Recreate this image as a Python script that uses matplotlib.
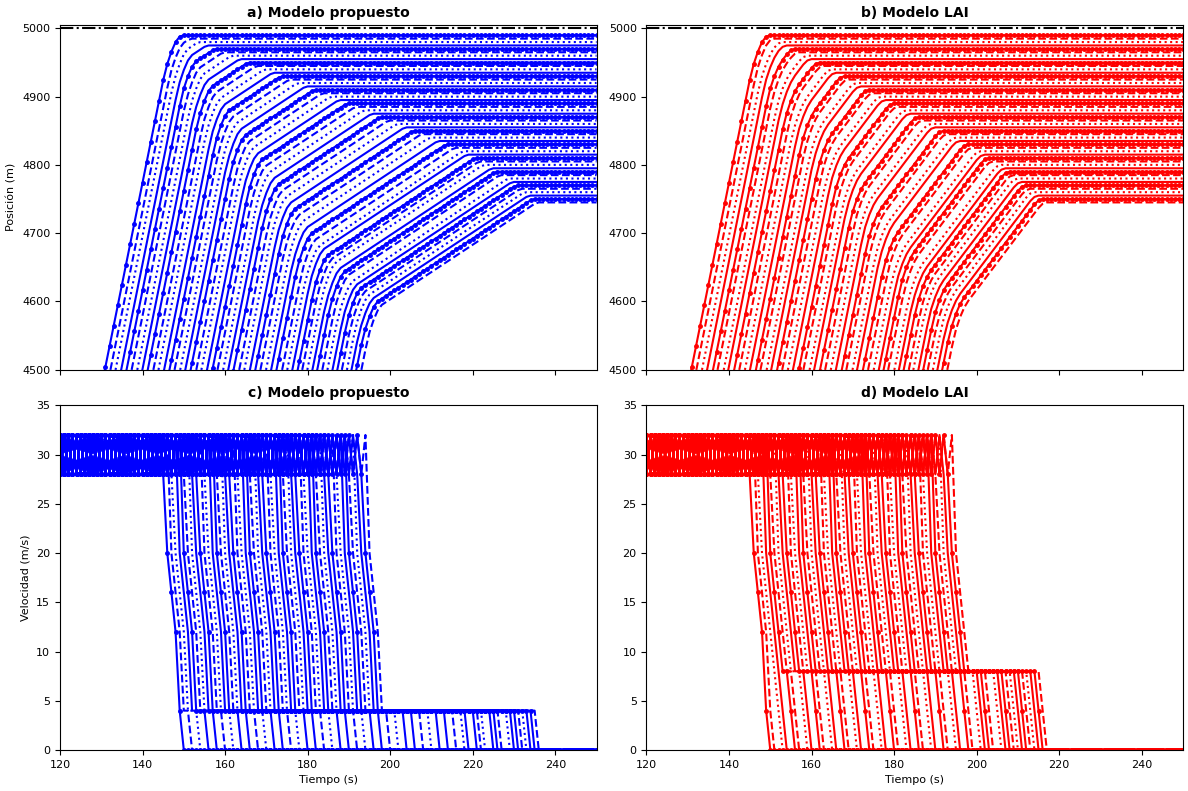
import numpy as np
import matplotlib
matplotlib.use('Agg')
import matplotlib.pyplot as plt

# tiempos de frenado de cada vehiculo (s)
t_freno = [145, 146, 147, 148, 149, 150, 151, 152, 153, 154, 155, 156, 157, 158, 159, 160, 161,
           162, 163, 164, 165, 166, 167, 168, 169, 170, 171, 172, 173, 174, 175, 176, 177, 178,
           179, 180, 181, 182, 183, 184, 185, 186, 187, 188, 189, 190, 191, 192, 193, 194]

# tiempos de parada, modelo propuesto (s)
t_parada_a = [150, 152, 154, 156, 158, 160, 162, 164, 166, 168, 170, 172, 174, 176, 178, 180, 182,
              184, 186, 188, 190, 192, 194, 196, 198, 200, 202, 204, 206, 208, 210, 212, 214, 216,
              218, 219, 221, 222, 223, 225, 226, 227, 229, 230, 231, 232, 233, 234, 235, 236]

# tiempos de parada, modelo LAI (s)
t_parada_b = [150, 151, 153, 154, 156, 157, 159, 160, 162, 163, 165, 166, 168, 169, 171, 172, 174,
              175, 177, 178, 180, 181, 183, 184, 186, 187, 189, 190, 192, 193, 195, 196, 198, 199,
              201, 202, 203, 204, 206, 207, 208, 209, 210, 211, 212, 213, 214, 215, 216, 217]

# posiciones finales (m)
pos_final = [4990, 4985, 4980, 4975, 4970, 4965, 4960, 4955, 4950, 4945, 4940, 4935, 4930, 4925,
             4920, 4915, 4910, 4905, 4900, 4895, 4890, 4885, 4880, 4875, 4870, 4865, 4860, 4855,
             4850, 4845, 4840, 4835, 4830, 4825, 4820, 4815, 4810, 4805, 4800, 4795, 4790, 4785,
             4780, 4775, 4770, 4765, 4760, 4755, 4750, 4745]

v_oscila = [28, 32]          # velocidad de crucero oscilante (m/s)
v_frenado = [20, 16, 12]     # escalones de frenado (m/s)
v_lento_a = 4                # velocidad de aproximacion, modelo propuesto
v_lento_b = 8                # velocidad de aproximacion, modelo LAI
v_previa_b = 4               # ultimo escalon antes de parar, LAI
pos_meta = 5000

estilos = ['.-', '--', ':', '-']
t0, t1 = 100, 250
t = np.arange(t0, t1 + 1)


def perfil(k, tb, ts, modelo):
    fase = (k // 4) % 2
    v = np.where((t + fase) % 2 == 1, v_oscila[0], v_oscila[1]).astype(float)
    tramo = list(v_frenado)
    if modelo == 'a':
        tramo += [v_lento_a] * (ts - tb - 4) + [0]
    else:
        tramo += [v_lento_b] * (ts - tb - 5) + [v_previa_b] + [0]
    i = tb - t0
    v[i + 1:i + 1 + len(tramo)] = tramo
    v[i + 1 + len(tramo):] = 0
    return v


def posicion(v, s):
    cum = np.concatenate([[0], np.cumsum((v[1:] + v[:-1]) / 2)])
    return s - (cum[-1] - cum)


fig, axs = plt.subplots(2, 2, figsize=(11.88, 7.91), dpi=100)
fig.subplots_adjust(left=0.0505, right=0.9958, top=0.9684, bottom=0.0518,
                    wspace=0.093, hspace=0.104)

for col, (modelo, paradas, color, nombre) in enumerate(
        [('a', t_parada_a, 'b', 'Modelo propuesto'), ('b', t_parada_b, 'r', 'Modelo LAI')]):
    axp = axs[0, col]
    axv = axs[1, col]
    for k in range(len(t_freno)):
        v = perfil(k, t_freno[k], paradas[k], modelo)
        p = posicion(v, pos_final[k])
        est = estilos[k % 4]
        axp.plot(t, p, est, color=color, lw=1.5, ms=5)
        axv.plot(t, v, est, color=color, lw=1.5, ms=5)
    axp.axhline(pos_meta, color='k', ls='-.', lw=1.5)
    axp.set_xlim(120, 250)
    axp.set_ylim(4500, 5005)
    axp.set_xticks([120, 140, 160, 180, 200, 220, 240])
    axp.set_xticklabels([])
    axp.set_yticks([4500, 4600, 4700, 4800, 4900, 5000])
    axv.set_xlim(120, 250)
    axv.set_ylim(0, 35)
    axv.set_xticks([120, 140, 160, 180, 200, 220, 240])
    axv.set_yticks([0, 5, 10, 15, 20, 25, 30, 35])
    axv.set_xlabel('Tiempo (s)', fontsize=8)
    letra = 'a' if col == 0 else 'b'
    letra2 = 'c' if col == 0 else 'd'
    axp.set_title(letra + ') ' + nombre, fontsize=10, fontweight='bold')
    axv.set_title(letra2 + ') ' + nombre, fontsize=10, fontweight='bold')
    for ax in (axp, axv):
        ax.tick_params(labelsize=8)

axs[0, 0].set_ylabel('Posición (m)', fontsize=8)
axs[1, 0].set_ylabel('Velocidad (m/s)', fontsize=8)

plt.savefig('out.png', dpi=100)
